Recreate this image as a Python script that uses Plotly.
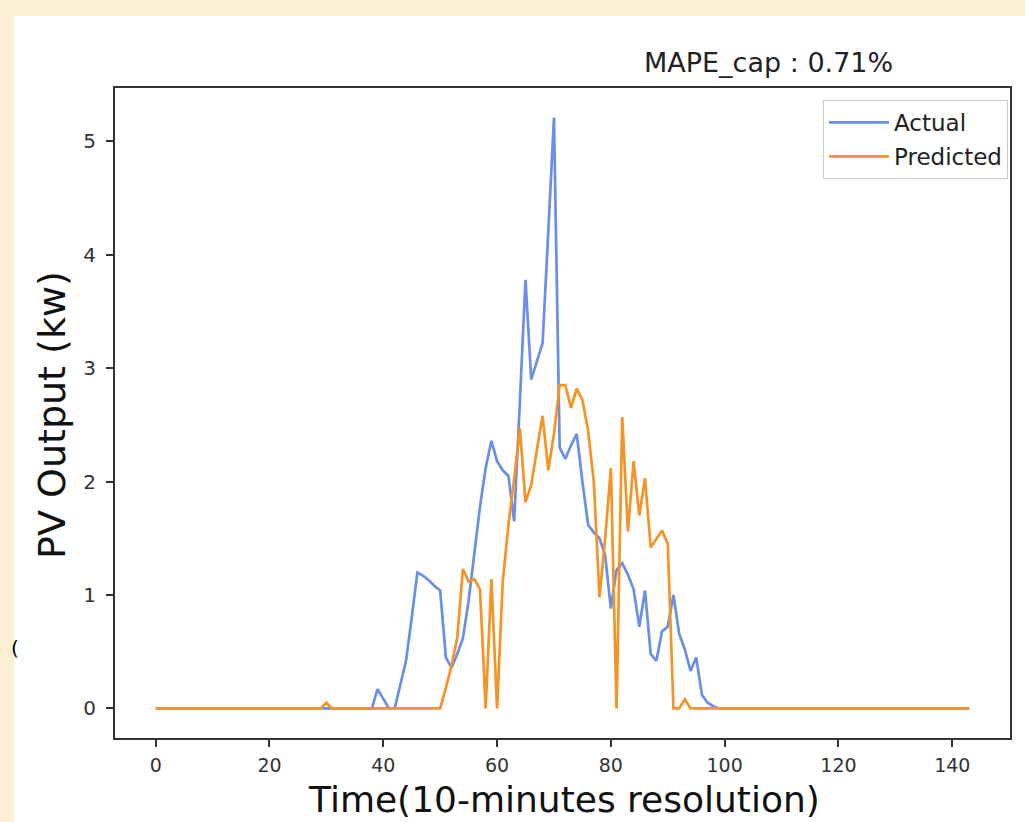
import plotly.graph_objects as go

# ---- data ----
time_index = list(range(144))

actual = ([0.0] * 38 +
          [0.0, 0.17, 0.09, 0.0, 0.0, 0.2, 0.42, 0.8, 1.2, 1.17,
           1.13, 1.08, 1.04, 0.45, 0.36, 0.48, 0.62, 0.95, 1.38, 1.78,
           2.12, 2.36, 2.18, 2.1, 2.05, 1.65, 2.7, 3.78, 2.9, 3.05,
           3.22, 4.2, 5.21, 2.3, 2.2, 2.32, 2.42, 2.0, 1.62, 1.55,
           1.5, 1.35, 0.88, 1.22, 1.28, 1.18, 1.05, 0.72, 1.04, 0.48,
           0.42, 0.68, 0.72, 1.0, 0.66, 0.52, 0.33, 0.45, 0.12, 0.05,
           0.02] +
          [0.0] * 45)

predicted = ([0.0] * 30 + [0.05] + [0.0] * 20 +
             [0.18, 0.38, 0.62, 1.23, 1.12, 1.14, 1.05, 0.0, 1.14, 0.0,
              1.12, 1.62, 2.02, 2.47, 1.82, 1.97, 2.28, 2.58, 2.1, 2.42,
              2.85, 2.85, 2.65, 2.82, 2.72, 2.45, 2.0, 0.98, 1.5, 2.12,
              0.0, 2.57, 1.56, 2.18, 1.7, 2.03, 1.42, 1.5, 1.57, 1.45,
              0.0, 0.0, 0.08] +
             [0.0] * 50)

series_names = ["Actual", "Predicted"]
x_ticks = [0, 20, 40, 60, 80, 100, 120, 140]
y_ticks = [0, 1, 2, 3, 4, 5]
title_text = "MAPE_cap : 0.71%"
x_title = "Time(10-minutes resolution)"
y_title = "PV Output (kw)"

# ---- figure ----
W, H = 1025, 822
L, R, T, B = 115, 15, 88, 84
PW, PH = W - L - R, H - T - B


def px(xp):
    return (xp - L) / PW


def py(yp):
    return (H - B - yp) / PH


FONT = "DejaVu Sans"
BLUE = "#6a8fe6"
ORANGE = "#f59324"
CREAM = "#fdefd3"

fig = go.Figure()
fig.add_trace(go.Scatter(x=time_index, y=actual, mode="lines", name=series_names[0],
                         line=dict(color=BLUE, width=2.7), legendgroup="a"))
fig.add_trace(go.Scatter(x=time_index, y=predicted, mode="lines", name=series_names[1],
                         line=dict(color=ORANGE, width=2.7), legendgroup="b"))

axis_common = dict(showline=True, linecolor="#333333", linewidth=1.8, mirror=True,
                   showgrid=False, zeroline=False, ticks="outside", ticklen=7,
                   tickwidth=1.5, tickcolor="#333333")

fig.update_xaxes(range=[-7.15, 150.15], tickvals=x_ticks, ticklabelstandoff=2,
                 tickfont=dict(family=FONT, size=19, color="#333333"), **axis_common)
fig.update_yaxes(range=[-0.2605, 5.4705], tickvals=y_ticks, ticklabelstandoff=6,
                 tickfont=dict(family=FONT, size=20, color="#333333"), **axis_common)

fig.update_layout(
    width=W, height=H,
    margin=dict(l=L, r=R, t=T, b=B, autoexpand=False),
    paper_bgcolor=CREAM, plot_bgcolor="white",
    font=dict(family=FONT, color="#222222"),
    showlegend=True,
    legend=dict(x=px(1008), y=py(100), xanchor="right", yanchor="top",
                bgcolor="white", bordercolor="#cccccc", borderwidth=1,
                font=dict(family=FONT, size=23, color="#222222"),
                tracegroupgap=1, itemwidth=60),
    shapes=[dict(type="rect", xref="paper", yref="paper",
                 x0=px(14), x1=px(W + 5), y0=py(H + 5), y1=py(16),
                 fillcolor="white", line=dict(width=0), layer="below")],
    annotations=[
        dict(text=title_text, x=px(768), y=py(63), xref="paper", yref="paper",
             xanchor="center", yanchor="middle", showarrow=False,
             font=dict(family=FONT, size=27, color="#222222")),
        dict(text=x_title, x=px(564), y=py(822), xref="paper", yref="paper",
             xanchor="center", yanchor="bottom", showarrow=False,
             font=dict(family=FONT, size=36, color="#111111")),
        dict(text=y_title, x=px(52), y=py(415), xref="paper", yref="paper",
             xanchor="center", yanchor="middle", showarrow=False, textangle=-90,
             font=dict(family=FONT, size=38, color="#111111")),
        dict(text="(", x=px(9), y=py(648), xref="paper", yref="paper",
             xanchor="left", yanchor="middle", showarrow=False,
             font=dict(family=FONT, size=20, color="#000000")),
    ],
)

fig.write_html("out.html", config={"displayModeBar": False},
               post_script="document.body.style.margin='0';document.body.style.padding='0';")
